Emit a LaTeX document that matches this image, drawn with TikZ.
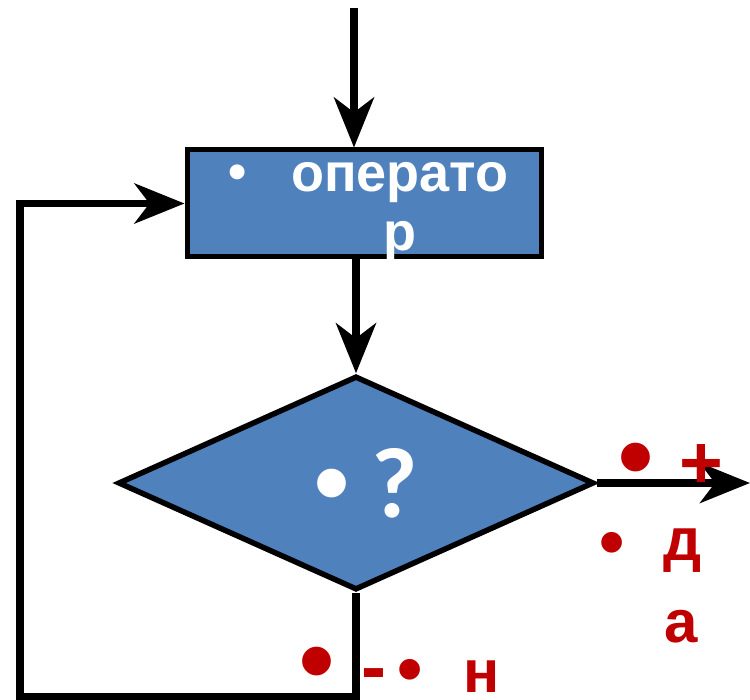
\documentclass[tikz,border=0pt]{standalone}
\usepackage{fontspec}
\setmainfont{Liberation Sans}
\newfontfamily\qfont{Carlito}
\usetikzlibrary{shapes.geometric,arrows.meta}
\definecolor{boxblue}{HTML}{4F81BD}
\definecolor{lblred}{HTML}{C00000}
\tikzset{
  flowline/.style={line width=7.5pt, draw=black},
  flowarrow/.style={flowline, -{Stealth[length=50pt,width=40pt,inset=15pt]}},
  wtext/.style={text=white, font=\bfseries\fontsize{54}{60}\selectfont, inner sep=0pt},
  rtext/.style={text=lblred, font=\bfseries\fontsize{60}{70}\selectfont, inner sep=0pt},
}
\begin{document}
\begin{tikzpicture}[x=1pt,y=-1pt]
\useasboundingbox (0,0) rectangle (750,700);
\node[rectangle, draw=black, line width=5pt, fill=boxblue, minimum width=354pt, minimum height=107pt, inner sep=0pt] (op) at (364,203.5) {};
\node[diamond, draw=black, line width=5.5pt, fill=boxblue, minimum width=476pt, minimum height=214pt, inner sep=0pt] (dec) at (356,483) {};
% texts in shapes
\node[wtext, font=\bfseries\fontsize{52}{60}\selectfont] (b1) at (238,177) {•};
\node[wtext, anchor=base] (t1) at (400,192) {операто};
\node[wtext, anchor=base] (t2) at (400,251) {р};
\node[wtext, font=\bfseries\fontsize{100}{110}\selectfont] (b2) at (332,493) {•};
\node[wtext, font=\qfont\bfseries\fontsize{100}{110}\selectfont, anchor=base] (q) at (395,518) {?};
% connectors
\coordinate (top) at (354,8);
\draw[flowarrow] (top) -- (top |- op.north);
\draw[flowarrow] (op.south -| dec.north) -- (dec.north);
\coordinate (rend) at (750,483);
\draw[flowarrow] (dec.east) -- (rend);
\coordinate (c1) at (356,697);
\coordinate (c2) at (20,697);
\draw[flowarrow] (dec.south) -- (c1) -- (c2) |- (op.west);
% labels
\node[rtext, font=\bfseries\fontsize{100}{110}\selectfont] (rb1) at (636,467) {•};
\node[rtext, font=\bfseries\fontsize{75}{80}\selectfont] (plus) at (701,467) {+};
\node[rtext, font=\bfseries\fontsize{72}{80}\selectfont] (rb2) at (612,549) {•};
\node[rtext, anchor=base] (d1) at (683,560) {д};
\node[rtext, anchor=base] (d2) at (681,642) {а};
\node[rtext, font=\bfseries\fontsize{100}{110}\selectfont] (rb3) at (317,671) {•};
\node[rtext, font=\bfseries\fontsize{75}{80}\selectfont] (minus) at (374,681) {-};
\node[rtext, font=\bfseries\fontsize{72}{80}\selectfont] (rb4) at (410,676) {•};
\node[rtext, anchor=base] (n) at (482,692) {н};
\end{tikzpicture}
\end{document}
